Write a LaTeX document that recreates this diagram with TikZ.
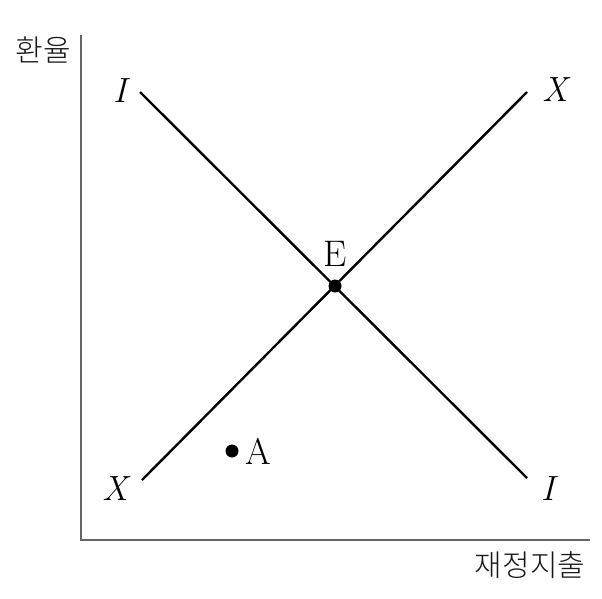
\documentclass[tikz,border=0pt]{standalone}
\usepackage{fontspec}
\newfontfamily\kr{Noto Sans CJK KR Light}
\begin{document}
\begin{tikzpicture}[x=1pt,y=-1pt,
  axis/.style={draw=black!60,line width=1.4pt},
  curve/.style={draw=black,line width=2.4pt},
  dot/.style={circle,fill=black,inner sep=0pt,minimum size=13pt},
  lbl/.style={font=\fontsize{37}{40}\selectfont},
  ilbl/.style={font=\fontsize{35}{38}\selectfont\itshape},
  krlbl/.style={font=\kr\fontsize{30}{33}\selectfont,text=black!90}]
\useasboundingbox (0,0) rectangle (602,598);
\coordinate (O) at (81,540);
\coordinate (Ytop) at (81,35);
\coordinate (Xend) at (590,540);
\draw[axis] (Ytop) -- (O) -- (Xend);
\node[krlbl] (ylab) at (43,50) {환율};
\node[krlbl] (xlab) at (530,565) {재정지출};
\coordinate (I1) at (140,92);
\coordinate (I2) at (527,478);
\coordinate (X1) at (142,480);
\coordinate (X2) at (527,92);
\draw[curve] (I1) -- (I2);
\draw[curve] (X1) -- (X2);
\node[dot] (E) at (335,286) {};
\node[lbl] (Elab) at (335,254) {E};
\node[dot] (A) at (232,451) {};
\node[lbl] (Alab) at (258,451) {A};
\node[ilbl] (Ia) at (120,91) {I};
\node[ilbl] (Xa) at (555,90) {X};
\node[ilbl] (Xb) at (115,489) {X};
\node[ilbl] (Ib) at (548,489) {I};
\end{tikzpicture}
\end{document}
